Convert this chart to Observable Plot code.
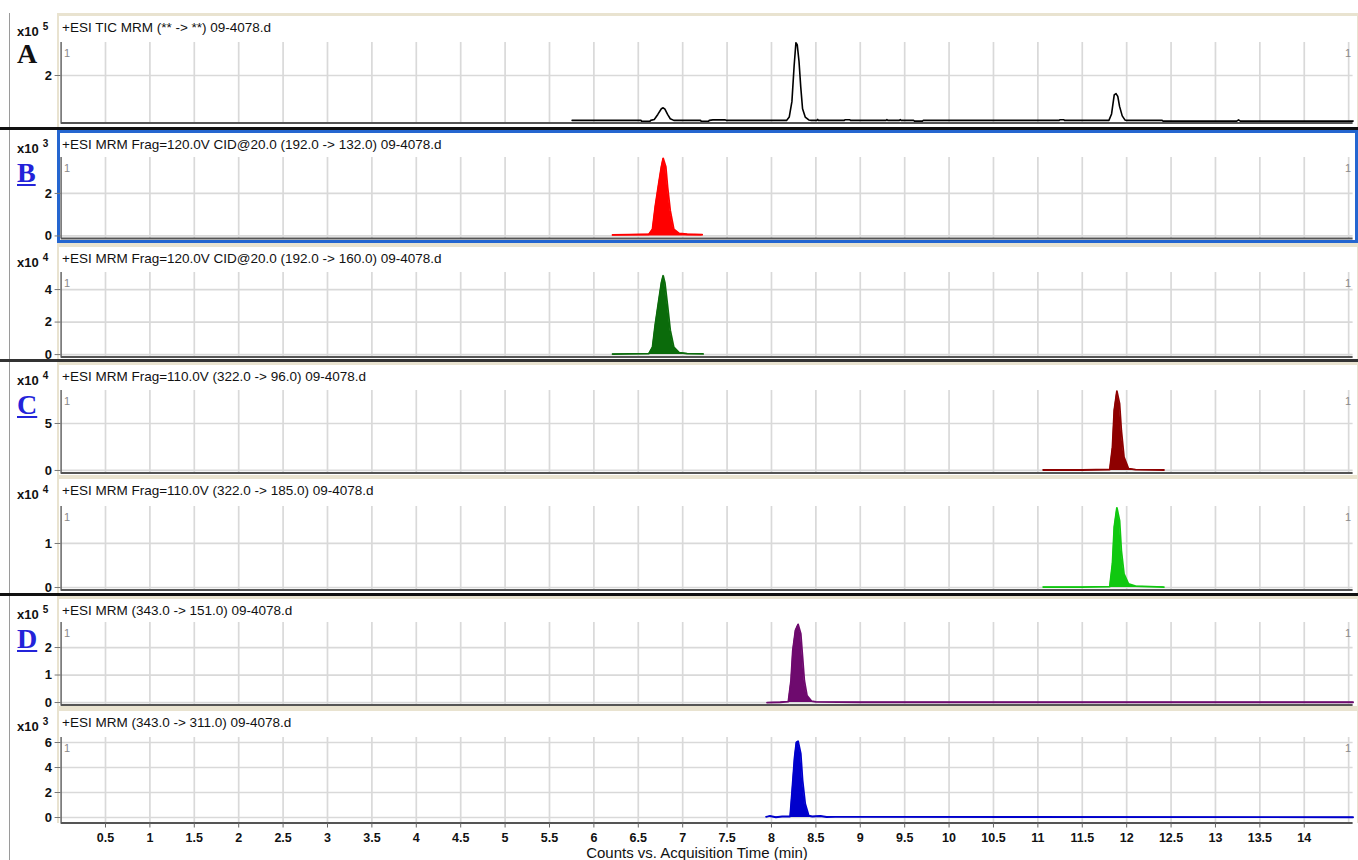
<!DOCTYPE html>
<html>
<head>
<meta charset="utf-8">
<script src="https://cdn.jsdelivr.net/npm/d3@7"></script>
<script src="https://cdn.jsdelivr.net/npm/@observablehq/plot@0.6"></script>
<style>
  body { margin: 0; background: #fff; font-family: "Liberation Sans", Arial, sans-serif; }
  #root { position: relative; width: 1358px; height: 860px; overflow: hidden; background: #fff; }
  .abs { position: absolute; }
  .hdr { position: absolute; left: 62px; font-size: 13.5px; line-height: 15px; color: #111; white-space: nowrap; }
  .exp { position: absolute; left: 17px; font-size: 13px; line-height: 15px; font-weight: bold; color: #111; white-space: nowrap; }
  .exp sup { font-size: 10px; position: relative; top: -1px; margin-left: 4px; }
  .letter { position: absolute; left: 17px; font-family: "Liberation Serif", "Times New Roman", serif; font-weight: bold; font-size: 28px; line-height: 28px; }
  .svgwrap { position: absolute; left: 0; }
</style>
</head>
<body>
<div id="root"></div>
<script>
// ---------------- data ----------------
const xGridTicks = [0.5,1,1.5,2,2.5,3,3.5,4,4.5,5,5.5,6,6.5,7,7.5,8,8.5,9,9.5,10,10.5,11,11.5,12,12.5,13,13.5,14,14.5];
const xTickLabels = [0.5,1,1.5,2,2.5,3,3.5,4,4.5,5,5.5,6,6.5,7,7.5,8,8.5,9,9.5,10,10.5,11,11.5,12,12.5,13,13.5,14];
const xLabel = "Counts vs. Acquisition Time (min)";

const panelTitles = [
  "+ESI TIC MRM (** -> **) 09-4078.d",
  "+ESI MRM Frag=120.0V CID@20.0 (192.0 -> 132.0) 09-4078.d",
  "+ESI MRM Frag=120.0V CID@20.0 (192.0 -> 160.0) 09-4078.d",
  "+ESI MRM Frag=110.0V (322.0 -> 96.0) 09-4078.d",
  "+ESI MRM Frag=110.0V (322.0 -> 185.0) 09-4078.d",
  "+ESI MRM (343.0 -> 151.0) 09-4078.d",
  "+ESI MRM (343.0 -> 311.0) 09-4078.d"
];
const panelExponents = [5, 3, 4, 4, 4, 5, 3];
const panelLetters = ["A", "B", "", "C", "", "D", ""];
const panelYTicks = [[2], [0, 2], [0, 2, 4], [0, 5], [0, 1], [0, 1, 2], [0, 2, 4, 6]];

// [time (min), counts in units of 10^exponent]
const ticPoints = [
  [5.755,0.11],[6.53,0.11],[6.54,0.07],[6.63,0.07],[6.64,0.11],[6.68,0.15],[6.72,0.36],[6.76,0.6],
  [6.78,0.64],[6.80,0.58],[6.83,0.36],[6.86,0.18],[6.90,0.11],[7.20,0.11],[7.21,0.07],[7.29,0.07],
  [7.30,0.11],[7.34,0.13],[7.48,0.13],[7.49,0.11],[8.17,0.11],[8.20,0.25],[8.23,0.9],[8.255,2.4],
  [8.275,3.38],[8.29,3.3],[8.31,2.6],[8.33,1.5],[8.35,0.6],[8.38,0.25],[8.42,0.13],[8.45,0.11],
  [8.51,0.11],[8.52,0.15],[8.53,0.11],[8.82,0.11],[8.83,0.14],[8.88,0.14],[8.89,0.11],[9.29,0.11],
  [9.30,0.14],[9.31,0.11],[9.44,0.11],[9.45,0.14],[9.46,0.11],[9.60,0.11],[9.61,0.08],[9.70,0.08],
  [9.71,0.11],[11.24,0.11],[11.25,0.14],[11.29,0.14],[11.30,0.11],[11.80,0.11],[11.83,0.38],[11.86,1.18],
  [11.88,1.24],[11.90,1.12],[11.92,0.7],[11.95,0.3],[11.98,0.13],[12.00,0.11],[12.40,0.11],[12.41,0.08],
  [13.24,0.08],[13.26,0.13],[13.28,0.08],[14.55,0.08]
];
const points132 = [
  [6.21,0.05],[6.40,0.06],[6.62,0.08],[6.66,0.32],[6.69,1.35],[6.73,2.46],[6.76,3.25],[6.78,3.65],
  [6.81,3.25],[6.83,2.3],[6.86,1.19],[6.90,0.32],[6.96,0.12],[7.05,0.08],[7.22,0.06]
];
const points160 = [
  [6.21,0.03],[6.40,0.04],[6.62,0.06],[6.66,0.45],[6.69,1.8],[6.73,3.3],[6.76,4.4],[6.78,4.85],
  [6.80,4.4],[6.83,3.0],[6.86,1.5],[6.90,0.45],[6.96,0.12],[7.05,0.06],[7.23,0.04]
];
const points96 = [
  [11.06,0.05],[11.50,0.05],[11.81,0.1],[11.84,2.48],[11.86,6.4],[11.89,8.45],[11.92,7.1],
  [11.94,4.26],[11.97,1.42],[12.02,0.2],[12.10,0.08],[12.42,0.05]
];
const points185 = [
  [11.06,0.01],[11.50,0.01],[11.81,0.02],[11.84,0.54],[11.86,1.37],[11.89,1.81],[11.92,1.52],
  [11.94,0.84],[11.97,0.31],[12.02,0.08],[12.10,0.03],[12.42,0.01]
];
const points151 = [
  [7.95,0.0],[8.10,0.01],[8.19,0.03],[8.22,0.8],[8.24,1.89],[8.27,2.62],[8.30,2.84],[8.33,2.5],
  [8.35,1.65],[8.37,0.8],[8.40,0.25],[8.45,0.05],[8.50,0.02],[9.0,0.01],[14.55,0.01]
];
const points311 = [
  [7.94,0.05],[7.98,0.12],[8.05,0.02],[8.12,0.08],[8.21,0.08],[8.23,1.9],[8.26,4.8],[8.28,6.0],
  [8.30,6.1],[8.33,5.1],[8.35,3.0],[8.38,1.1],[8.42,0.14],[8.46,0.08],[8.55,0.12],[8.62,0.04],
  [8.72,0.05],[14.55,0.02]
];
const panelSeries = [ticPoints, points132, points160, points96, points185, points151, points311];
const panelColors = ["#000000", "#ff0000", "#0b6b0b", "#8e0000", "#10c810", "#6e0a6e", "#0000cc"];
const panelFilled = [false, true, true, true, true, true, true];

// ---------------- layout (pixels) ----------------
const layout = [
  {frameTop: 13,  frameBottom: 127, plotTop: 42,  plotBottom: 122.5, yDomain: [0, 3.39]},
  {frameTop: 130, frameBottom: 243, plotTop: 157, plotBottom: 238,   yDomain: [-0.12, 3.69]},
  {frameTop: 244, frameBottom: 359, plotTop: 272, plotBottom: 356.5, yDomain: [-0.15, 5.05]},
  {frameTop: 362, frameBottom: 475, plotTop: 390, plotBottom: 472.5, yDomain: [-0.27, 8.51]},
  {frameTop: 476, frameBottom: 593, plotTop: 506, plotBottom: 589.5, yDomain: [-0.057, 1.84]},
  {frameTop: 596, frameBottom: 707, plotTop: 622, plotBottom: 704.5, yDomain: [-0.09, 2.91]},
  {frameTop: 708, frameBottom: 823, plotTop: 737, plotBottom: 822.5, yDomain: [-0.44, 6.4]}
];
const beige = "#e9e3d0";
const gridColor = "#d9d9d9";
const letterBlue = "#2323d9";

const root = document.getElementById("root");
function addDiv(style, html, cls) {
  const d = document.createElement("div");
  if (cls) d.className = cls; else d.className = "abs";
  Object.assign(d.style, style);
  if (html != null) d.innerHTML = html;
  root.appendChild(d);
  return d;
}

// outer thin left rule
addDiv({left: "9px", top: "13px", width: "1px", height: "847px", background: "#9a9a9a"});

// panel frames
layout.forEach((L, i) => {
  const isB = i === 1;
  addDiv({
    left: "57px", top: L.frameTop + "px", width: "1301px", height: (L.frameBottom - L.frameTop) + "px",
    boxSizing: "border-box",
    borderTop: isB ? "3px solid #2566d0" : "3px solid " + beige,
    borderLeft: isB ? "3px solid #2566d0" : "2px solid " + beige,
    borderRight: isB ? "3px solid #2566d0" : "1.5px solid " + beige,
    borderBottom: isB ? "3px solid #2566d0" : "none"
  });
});
// beige separators inside groups
addDiv({left: "57px", top: "243px", width: "1301px", height: "3px", background: beige});
addDiv({left: "57px", top: "475px", width: "1301px", height: "4px", background: beige});
addDiv({left: "57px", top: "706px", width: "1301px", height: "4px", background: beige});
// dark group separators
addDiv({left: "0px", top: "127px", width: "1358px", height: "2.5px", background: "#111"});
addDiv({left: "0px", top: "359px", width: "1358px", height: "3px", background: "#333"});
addDiv({left: "0px", top: "593px", width: "1358px", height: "3px", background: "#111"});

// plots
layout.forEach((L, i) => {
  const last = i === layout.length - 1;
  const padTop = 8, padBottom = last ? 40 : 6;
  const h = L.plotBottom - L.plotTop;
  const pts = panelSeries[i];
  const color = panelColors[i];
  const ticks = panelYTicks[i];
  const marks = [
    Plot.gridX(xGridTicks, {stroke: gridColor, strokeOpacity: 1, strokeWidth: 1.7}),
    Plot.gridY(ticks, {stroke: gridColor, strokeOpacity: 1, strokeWidth: 1.7}),
    panelFilled[i] ? Plot.areaY(pts, {x: d => d[0], y: d => d[1], fill: color}) : null,
    Plot.lineY(pts, {x: d => d[0], y: d => d[1], stroke: color, strokeWidth: panelFilled[i] ? 1.8 : 1.6}),
    Plot.ruleX([0], {stroke: "#666", strokeWidth: 1.5}),
    Plot.ruleY([L.yDomain[0]], {stroke: "#555", strokeWidth: 2}),
    Plot.axisY(ticks, {tickSize: 6, tickPadding: 3, fontSize: 13, fontWeight: "bold", fill: "#111",
      stroke: "#777", tickFormat: d => String(d), label: null}),
    Plot.text(["1"], {text: d => d, frameAnchor: "top-left", dx: 3, dy: 7, fill: "#8a8a8a", fontSize: 11}),
    Plot.text(["1"], {text: d => d, frameAnchor: "top-right", dx: -2, dy: 7, fill: "#8a8a8a", fontSize: 11})
  ];
  if (last) {
    marks.push(Plot.axisX(xTickLabels, {tickSize: 5, tickPadding: 5, fontSize: 12.5, fontWeight: "bold",
      fill: "#111", stroke: "#666", tickFormat: d => String(d), label: null}));
  }
  const svg = Plot.plot({
    width: 1358,
    height: h + padTop + padBottom,
    marginLeft: 60.6, marginRight: 5.4, marginTop: padTop, marginBottom: padBottom,
    x: {domain: [0, 14.55], axis: null},
    y: {domain: L.yDomain, axis: null},
    style: {background: "transparent", overflow: "visible", fontFamily: "'Liberation Sans', Arial, sans-serif"},
    marks: marks.filter(Boolean)
  });
  const wrap = addDiv({top: (L.plotTop - padTop) + "px"}, null, "svgwrap");
  wrap.appendChild(svg);

  // header texts
  addDiv({top: (L.frameTop + 7) + "px"}, panelTitles[i], "hdr");
  addDiv({top: (L.frameTop + 7) + "px"}, "x10<sup>" + panelExponents[i] + "</sup>", "exp");
  if (panelLetters[i]) {
    const isA = panelLetters[i] === "A";
    addDiv({top: (L.frameTop + (isA ? 27 : 29)) + "px", color: isA ? "#111" : letterBlue,
      textDecoration: isA ? "none" : "underline"}, panelLetters[i], "letter");
  }
});

// x axis title
addDiv({left: "697px", top: "845px", transform: "translateX(-50%)", fontSize: "15px", lineHeight: "15px",
  color: "#111", whiteSpace: "nowrap"}, xLabel);
</script>
</body>
</html>
